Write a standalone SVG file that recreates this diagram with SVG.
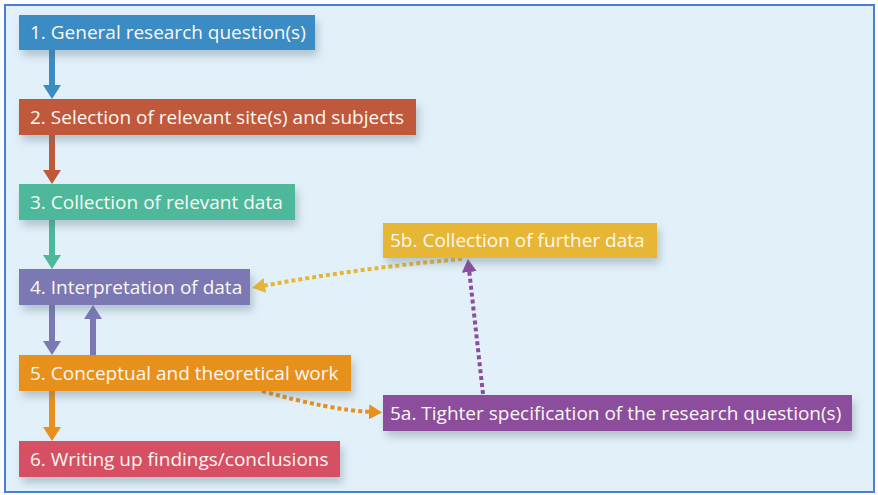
<svg xmlns="http://www.w3.org/2000/svg" width="878" height="495" viewBox="0 0 878 495">
<style>
text{font-family:"Open Sans","Noto Sans","Liberation Sans",sans-serif;font-size:19px;fill:#fbf8f4}
.box{filter:url(#sh)}
.dot{fill:none;stroke-width:4;stroke-dasharray:4 3}
.sol{stroke-width:6;fill:none}
</style>
<defs>
<filter id="sh" x="-10%" y="-40%" width="125%" height="200%">
<feDropShadow dx="3" dy="6" stdDeviation="4" flood-color="#5a7080" flood-opacity="0.35"/>
</filter>
<marker id="aBlue" markerUnits="userSpaceOnUse" markerWidth="14" markerHeight="18" viewBox="0 0 14 18" refX="4" refY="9" orient="auto"><path d="M0,0L14,9L0,18z" fill="#3a8cc4"/></marker>
<marker id="aRust" markerUnits="userSpaceOnUse" markerWidth="14" markerHeight="18" viewBox="0 0 14 18" refX="4" refY="9" orient="auto"><path d="M0,0L14,9L0,18z" fill="#c0583a"/></marker>
<marker id="aTeal" markerUnits="userSpaceOnUse" markerWidth="14" markerHeight="18" viewBox="0 0 14 18" refX="4" refY="9" orient="auto"><path d="M0,0L14,9L0,18z" fill="#4db89a"/></marker>
<marker id="aSlate" markerUnits="userSpaceOnUse" markerWidth="14" markerHeight="18" viewBox="0 0 14 18" refX="4" refY="9" orient="auto"><path d="M0,0L14,9L0,18z" fill="#7b78b4"/></marker>
<marker id="aOrange" markerUnits="userSpaceOnUse" markerWidth="14" markerHeight="18" viewBox="0 0 14 18" refX="4" refY="9" orient="auto"><path d="M0,0L14,9L0,18z" fill="#e8901e"/></marker>
<marker id="dYellow" markerUnits="userSpaceOnUse" markerWidth="13" markerHeight="15" viewBox="0 0 13 15" refX="3" refY="7.5" orient="auto"><path d="M0,0L13,7.5L0,15z" fill="#e8b634"/></marker>
<marker id="dPurple" markerUnits="userSpaceOnUse" markerWidth="13" markerHeight="15" viewBox="0 0 13 15" refX="3" refY="7.5" orient="auto"><path d="M0,0L13,7.5L0,15z" fill="#8c4e9c"/></marker>
<marker id="dOrange" markerUnits="userSpaceOnUse" markerWidth="13" markerHeight="15" viewBox="0 0 13 15" refX="3" refY="7.5" orient="auto"><path d="M0,0L13,7.5L0,15z" fill="#e8901e"/></marker>
</defs>
<rect x="5" y="5" width="869" height="487" fill="#e2f1f9" stroke="#4a7fd4" stroke-width="2"/>
<g id="connectors">
<line class="sol" x1="52" y1="50" x2="52" y2="89" stroke="#3a8cc4" marker-end="url(#aBlue)"/>
<line class="sol" x1="52" y1="135" x2="52" y2="174" stroke="#c0583a" marker-end="url(#aRust)"/>
<line class="sol" x1="52" y1="220" x2="52" y2="259" stroke="#4db89a" marker-end="url(#aTeal)"/>
<line class="sol" x1="52" y1="305" x2="52" y2="345" stroke="#7b78b4" marker-end="url(#aSlate)"/>
<line class="sol" x1="93" y1="355" x2="93" y2="315" stroke="#7b78b4" marker-end="url(#aSlate)"/>
<line class="sol" x1="52" y1="391" x2="52" y2="431" stroke="#e8901e" marker-end="url(#aOrange)"/>
<path class="dot" d="M462,259 Q360,268 262,286" stroke="#e8b634" marker-end="url(#dYellow)"/>
<path class="dot" d="M483,394 L469,269" stroke="#8c4e9c" marker-end="url(#dPurple)"/>
<path class="dot" d="M262,391 Q330,410 372,412" stroke="#e8901e" marker-end="url(#dOrange)"/>
</g>
<g id="n1"><rect class="box" x="19" y="15" width="296" height="35" fill="#3a8cc4"/><text x="30" y="39">1. General research question(s)</text></g>
<g id="n2"><rect class="box" x="19" y="99" width="397" height="36" fill="#c0583a"/><text x="30" y="124">2. Selection of relevant site(s) and subjects</text></g>
<g id="n3"><rect class="box" x="19" y="184" width="276" height="36" fill="#4db89a"/><text x="30" y="209">3. Collection of relevant data</text></g>
<g id="n4"><rect class="box" x="19" y="269" width="231" height="36" fill="#7b78b4"/><text x="30" y="294">4. Interpretation of data</text></g>
<g id="n5"><rect class="box" x="19" y="355" width="332" height="36" fill="#e8901e"/><text x="30" y="380">5. Conceptual and theoretical work</text></g>
<g id="n6"><rect class="box" x="19" y="441" width="321" height="36" fill="#d65064"/><text x="30" y="466">6. Writing up findings/conclusions</text></g>
<g id="n5b"><rect class="box" x="383" y="223" width="274" height="35" fill="#e8b634"/><text x="390" y="247">5b. Collection of further data</text></g>
<g id="n5a"><rect class="box" x="383" y="395" width="469" height="36" fill="#8c4e9c"/><text x="390" y="420">5a. Tighter specification of the research question(s)</text></g>
</svg>
